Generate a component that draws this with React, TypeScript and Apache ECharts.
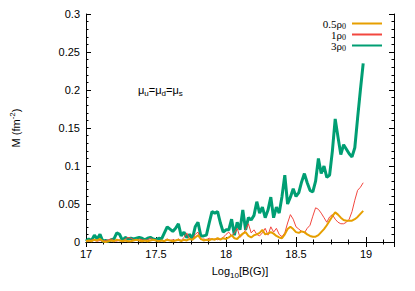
import React, { useEffect, useRef } from "react";
import * as echarts from "echarts";

const xValues: number[] = Array.from({ length: 100 }, (_, i) => +(17 + i * 0.02).toFixed(2));

const rho05: number[] = [
  0.001, 0.002, 0.001, 0.003, 0.002, 0.004, 0.001, 0.0, 0.001, 0.002,
  0.001, 0.003, 0.002, 0.001, 0.002, 0.001, 0.001, 0.002, 0.003, 0.002,
  0.001, 0.002, 0.001, 0.002, 0.003, 0.002, 0.001, 0.002, 0.001, 0.003,
  0.002, 0.001, 0.002, 0.003, 0.001, 0.003, 0.002, 0.004, 0.003, 0.006,
  0.009, 0.004, 0.002, 0.003, 0.002, 0.004, 0.003, 0.005, 0.003, 0.005,
  0.004, 0.006, 0.009, 0.005, 0.004, 0.008, 0.011, 0.013, 0.008, 0.006,
  0.009, 0.01, 0.012, 0.016, 0.01, 0.011, 0.013, 0.011, 0.008, 0.006,
  0.005, 0.01, 0.017, 0.02, 0.017, 0.013, 0.012, 0.014, 0.013, 0.01,
  0.008, 0.007, 0.007, 0.009, 0.013, 0.017, 0.022, 0.028, 0.034, 0.039,
  0.036, 0.032, 0.029, 0.028, 0.028, 0.028, 0.03, 0.033, 0.037, 0.041,
];

const rho1: number[] = [
  0.002, 0.001, 0.003, 0.002, 0.001, 0.002, 0.001, 0.002, 0.003, 0.004,
  0.002, 0.001, 0.003, 0.001, 0.004, 0.006, 0.005, 0.003, 0.002, 0.004,
  0.003, 0.002, 0.003, 0.005, 0.003, 0.002, 0.001, 0.002, 0.002, 0.004,
  0.002, 0.003, 0.002, 0.004, 0.002, 0.006, 0.012, 0.004, 0.003, 0.01,
  0.013, 0.003, 0.004, 0.003, 0.005, 0.003, 0.004, 0.003, 0.004, 0.006,
  0.01, 0.013, 0.008, 0.012, 0.018, 0.006, 0.01, 0.016, 0.024, 0.012,
  0.016, 0.01, 0.008, 0.012, 0.018, 0.009, 0.02, 0.013, 0.018, 0.01,
  0.007, 0.012, 0.025, 0.036, 0.03, 0.02, 0.017, 0.014, 0.012, 0.018,
  0.022, 0.034, 0.045, 0.043, 0.038, 0.032, 0.026, 0.033, 0.036, 0.03,
  0.026, 0.024, 0.024, 0.026, 0.03, 0.04, 0.055, 0.068, 0.072, 0.078,
];

const rho3: number[] = [
  0.001, 0.004, 0.002, 0.009, 0.004, 0.01, 0.001, 0.002, 0.001, 0.003,
  0.004, 0.012, 0.01, 0.002, 0.006, 0.004, 0.005, 0.004, 0.005, 0.006,
  0.005, 0.003, 0.005, 0.006, 0.004, 0.003, 0.005, 0.004, 0.012, 0.02,
  0.017, 0.014, 0.018, 0.024, 0.008, 0.013, 0.006, 0.01, 0.004, 0.02,
  0.026, 0.008, 0.008, 0.009, 0.025, 0.04, 0.038, 0.04, 0.025, 0.013,
  0.016, 0.016, 0.03, 0.009, 0.026, 0.016, 0.042, 0.016, 0.032, 0.029,
  0.035, 0.053, 0.038, 0.046, 0.032, 0.042, 0.059, 0.032, 0.046, 0.038,
  0.06, 0.088, 0.05, 0.059, 0.07, 0.06, 0.065, 0.079, 0.09, 0.078,
  0.068, 0.066, 0.08, 0.11, 0.09, 0.1, 0.085, 0.088, 0.12, 0.162,
  0.138, 0.115, 0.128, 0.122, 0.116, 0.112, 0.124, 0.163, 0.2, 0.235,
];

const seriesNames = ["0.5ρ0", "1ρ0", "3ρ0"];
const legendMain: Record<string, string> = { "0.5ρ0": "0.5ρ", "1ρ0": "1ρ", "3ρ0": "3ρ" };
const legendSub = "0";
const seriesColors = ["#e69f00", "#f2473f", "#009e73"];
const seriesWidths = [2, 1, 3];
const seriesData = [rho05, rho1, rho3];

export default function App() {
  const ref = useRef<HTMLDivElement>(null);
  useEffect(() => {
    if (!ref.current) return;
    const chart = echarts.init(ref.current, null, { renderer: "svg" });
    const font = "Liberation Sans";
    const serif = "Liberation Serif";
    const axisCommon = {
      axisLine: { lineStyle: { color: "#000", width: 1 } },
      splitLine: { show: false },
      axisTick: { inside: true, length: 5, lineStyle: { color: "#000" } },
      minorTick: { show: true, length: 2.5, lineStyle: { color: "#000" } },
    };
    const legendTop = 18;
    const rowH = 11;
    const legendRight = 32;
    const iconW = 30;
    const subLeft = 415 - legendRight - iconW - 5 - 5;
    chart.setOption({
      animation: false,
      backgroundColor: "#fff",
      grid: { left: 63, right: 21, top: 14, bottom: 49, containLabel: false },
      xAxis: [
        {
          type: "value",
          min: 17,
          max: 19.2,
          interval: 0.5,
          position: "bottom",
          ...axisCommon,
          minorTick: { ...axisCommon.minorTick, splitNumber: 4 },
          axisLabel: {
            color: "#000",
            fontFamily: font,
            fontSize: 11,
            margin: 6,
            showMaxLabel: false,
            formatter: (v: number) => String(v),
          },
          name: "{m|Log}{s|10}{m|[B(G)]}",
          nameLocation: "middle",
          nameGap: 21,
          nameTextStyle: {
            rich: {
              m: { fontFamily: font, fontSize: 11, color: "#000", lineHeight: 16 },
              s: { fontFamily: font, fontSize: 8, color: "#000", verticalAlign: "bottom", lineHeight: 16 },
            },
          },
        },
        {
          type: "value",
          min: 17,
          max: 19.2,
          interval: 0.5,
          position: "top",
          ...axisCommon,
          minorTick: { ...axisCommon.minorTick, splitNumber: 4 },
          axisLabel: { show: false },
        },
      ],
      yAxis: [
        {
          type: "value",
          min: 0,
          max: 0.3,
          interval: 0.05,
          position: "left",
          ...axisCommon,
          minorTick: { ...axisCommon.minorTick, splitNumber: 5 },
          axisLabel: {
            color: "#000",
            fontFamily: font,
            fontSize: 11,
            margin: 6,
            formatter: (v: number) => String(+v.toFixed(2)),
          },
          name: "{m|M (fm}{s|-2}{m|)}",
          nameLocation: "middle",
          nameGap: 62,
          nameRotate: 90,
          nameTextStyle: {
            rich: {
              m: { fontFamily: font, fontSize: 11, color: "#000", lineHeight: 16 },
              s: { fontFamily: font, fontSize: 8, color: "#000", verticalAlign: "top", lineHeight: 16 },
            },
          },
        },
        {
          type: "value",
          min: 0,
          max: 0.3,
          interval: 0.05,
          position: "right",
          ...axisCommon,
          minorTick: { ...axisCommon.minorTick, splitNumber: 5 },
          axisLabel: { show: false },
        },
      ],
      legend: {
        orient: "vertical",
        right: legendRight,
        top: legendTop,
        align: "right",
        itemWidth: iconW,
        itemHeight: 10,
        itemGap: 0,
        padding: 0,
        data: seriesNames,
        itemStyle: { opacity: 0 },
        formatter: (name: string) => legendMain[name],
        textStyle: {
          fontFamily: serif,
          fontSize: 11,
          color: "#000",
          lineHeight: rowH,
          padding: [0, 5, 0, 0],
        },
      },
      graphic: [
        {
          type: "text",
          left: 138,
          top: 84,
          style: {
            text: "{m|μ}{s|u}{m|=μ}{s|d}{m|=μ}{s|s}",
            rich: {
              m: { fontFamily: font, fontSize: 11, fill: "#000", lineHeight: 14 },
              s: { fontFamily: font, fontSize: 8, fill: "#000", verticalAlign: "bottom", lineHeight: 14, padding: [5, 0, 0, 0] },
            },
          },
        },
        ...seriesNames.map((_, k) => ({
          type: "text",
          x: subLeft - 1,
          y: legendTop + rowH * k + rowH / 2 + 3,
          style: {
            text: legendSub,
            fontFamily: serif,
            fontSize: 8,
            fill: "#000",
            textAlign: "left",
            textVerticalAlign: "middle",
          },
        })),
      ],
      series: seriesNames.map((name, k) => ({
        name,
        type: "line",
        xAxisIndex: 0,
        yAxisIndex: 0,
        symbol: "none",
        data: xValues.map((x, i) => [x, seriesData[k][i]]),
        lineStyle: { color: seriesColors[k], width: seriesWidths[k] },
        itemStyle: { color: seriesColors[k] },
        z: k === 2 ? 3 : k === 1 ? 4 : 5,
      })),
    });
    return () => chart.dispose();
  }, []);
  return (
    <div
      ref={ref}
      style={{ position: "fixed", left: 0, top: 0, width: 415, height: 291 }}
    />
  );
}
